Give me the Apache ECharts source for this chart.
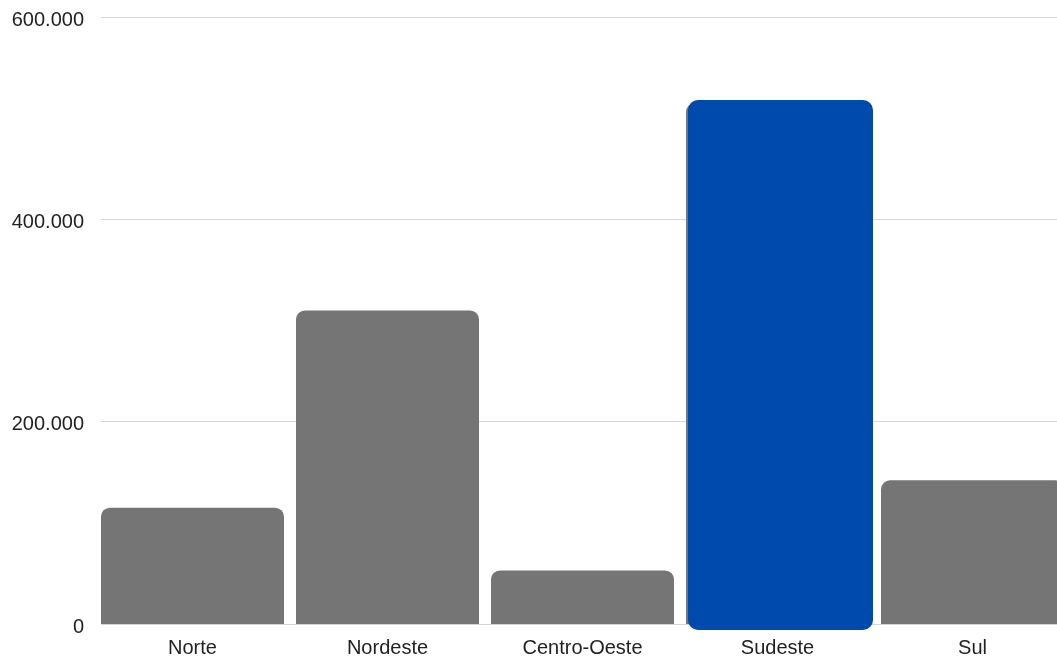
<!DOCTYPE html>
<html>
<head>
<meta charset="utf-8">
<script src="https://cdn.jsdelivr.net/npm/echarts@6/dist/echarts.min.js"></script>
<style>
html,body{margin:0;padding:0;background:#fff;}
#c{width:1057px;height:658px;}
</style>
</head>
<body>
<div id="c"></div>
<script>
const categories = ['Norte', 'Nordeste', 'Centro-Oeste', 'Sudeste', 'Sul'];
const values = [115000, 310000, 53000, 515000, 142000];
const highlightIndex = 3;
const yTicks = [0, 200000, 400000, 600000];

const fmt = v => '{t|' + (v === 0 ? '0' : String(v).replace(/\B(?=(\d{3})+(?!\d))/g, '.')) + '}';

const chart = echarts.init(document.getElementById('c'), null, {renderer: 'canvas'});
const font = '"Liberation Sans", Arial, sans-serif';

chart.setOption({
  animation: false,
  backgroundColor: '#ffffff',
  grid: [
    {left: 101, right: 0, top: 17, bottom: 34, outerBoundsMode: 'none'},
    {left: 95, width: 975, top: 17, bottom: 34, outerBoundsMode: 'none'}
  ],
  xAxis: [
    {gridIndex: 0, type: 'category', data: categories, show: false},
    {
      gridIndex: 1, type: 'category', data: categories,
      axisLine: {show: false}, axisTick: {show: false},
      axisLabel: {color: '#222222', fontSize: 20, fontFamily: font, margin: 14}
    }
  ],
  yAxis: [
    {
      gridIndex: 0, type: 'value', min: 0, max: 600000, interval: 200000,
      axisLine: {show: false}, axisTick: {show: false},
      axisLabel: {
        margin: 17, formatter: fmt,
        rich: {t: {color: '#222222', fontSize: 20, fontFamily: font, padding: [6, 0, 0, 0]}}
      },
      splitLine: {lineStyle: {color: '#d6d6d6', width: 1}}
    },
    {gridIndex: 1, type: 'value', min: 0, max: 600000, interval: 200000, show: false, splitLine: {show: false}}
  ],
  series: [
    {
      type: 'bar',
      xAxisIndex: 1, yAxisIndex: 1,
      data: values,
      barWidth: 183,
      itemStyle: {color: '#757575', borderRadius: [9, 9, 0, 0]},
      z: 2
    },
    {
      type: 'custom',
      xAxisIndex: 1, yAxisIndex: 1,
      data: values.map((v, i) => i === highlightIndex ? [i, v] : null).filter(d => d),
      z: 5,
      renderItem: function (params, api) {
        const top = api.coord([api.value(0), api.value(1)]);
        const base = api.coord([api.value(0), 0]);
        const w = 185;
        return {
          type: 'rect',
          shape: {x: top[0] - 91.5 + 2, y: top[1] - 3, width: w, height: base[1] - top[1] + 3 + 6, r: 10},
          style: {fill: '#004AAD'}
        };
      }
    }
  ]
});
</script>
</body>
</html>
